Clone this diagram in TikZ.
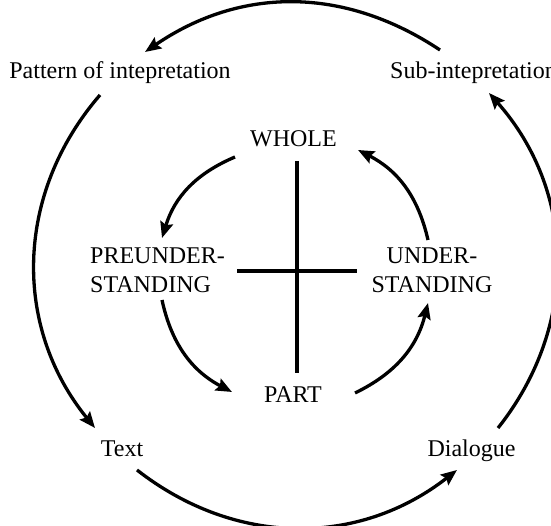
\documentclass[tikz,border=0pt]{standalone}
\usepackage{fontspec}
\setmainfont{Liberation Serif}
\usetikzlibrary{arrows.meta}
\begin{document}
\begin{tikzpicture}[x=1pt,y=1pt,
  lbl/.style={font=\fontsize{24}{29}\selectfont, inner sep=0pt, anchor=base},
  arr/.style={line width=3.3pt, -{Stealth[length=16pt,width=13pt,inset=2.5pt]}},
  crossline/.style={line width=3.3pt}]
\useasboundingbox (0,0) rectangle (551,526);
% labels
\node[lbl] (pattern) at (120,447) {Pattern of intepretation};
\node[lbl, anchor=base west] (sub) at (390,447) {Sub-intepretation};
\node[lbl] (whole) at (293.5,379) {WHOLE};
\node[lbl, anchor=base west, align=left] (pre) at (90,233) {PREUNDER-\\STANDING};
\node[lbl, align=center] (under) at (432,233) {UNDER-\\STANDING};
\node[lbl] (part) at (293,123) {PART};
\node[lbl] (text) at (122,69) {Text};
\node[lbl] (dialogue) at (471.5,69) {Dialogue};
% arrow end points
\coordinate (o1s) at (440,476); \coordinate (o1e) at (145,474);
\coordinate (o2s) at (100,431); \coordinate (o2e) at (95,98);
\coordinate (o3s) at (137,56);  \coordinate (o3e) at (457,56);
\coordinate (o4s) at (498,98);  \coordinate (o4e) at (489,433);
\coordinate (i1s) at (235,369); \coordinate (i1e) at (162,288);
\coordinate (i2s) at (162,226); \coordinate (i2e) at (232,134);
\coordinate (i3s) at (355,133); \coordinate (i3e) at (428,223);
\coordinate (i4s) at (428,286); \coordinate (i4e) at (358,376);
% cross
\coordinate (vt) at (297,365); \coordinate (vb) at (297,153);
\coordinate (hl) at (237,255); \coordinate (hr) at (357,255);
\draw[crossline] (vt) -- (vb);
\draw[crossline] (hl) -- (hr);
% outer cycle
\draw[arr] (o1s) to[bend right=34] (o1e);
\draw[arr] (o2s) to[bend right=40] (o2e);
\draw[arr] (o3s) to[bend right=38] (o3e);
\draw[arr] (o4s) to[bend right=40] (o4e);
% inner cycle
\draw[arr] (i1s) to[bend right=25] (i1e);
\draw[arr] (i2s) to[bend right=25] (i2e);
\draw[arr] (i3s) to[bend right=25] (i3e);
\draw[arr] (i4s) to[bend right=25] (i4e);
\end{tikzpicture}
\end{document}
